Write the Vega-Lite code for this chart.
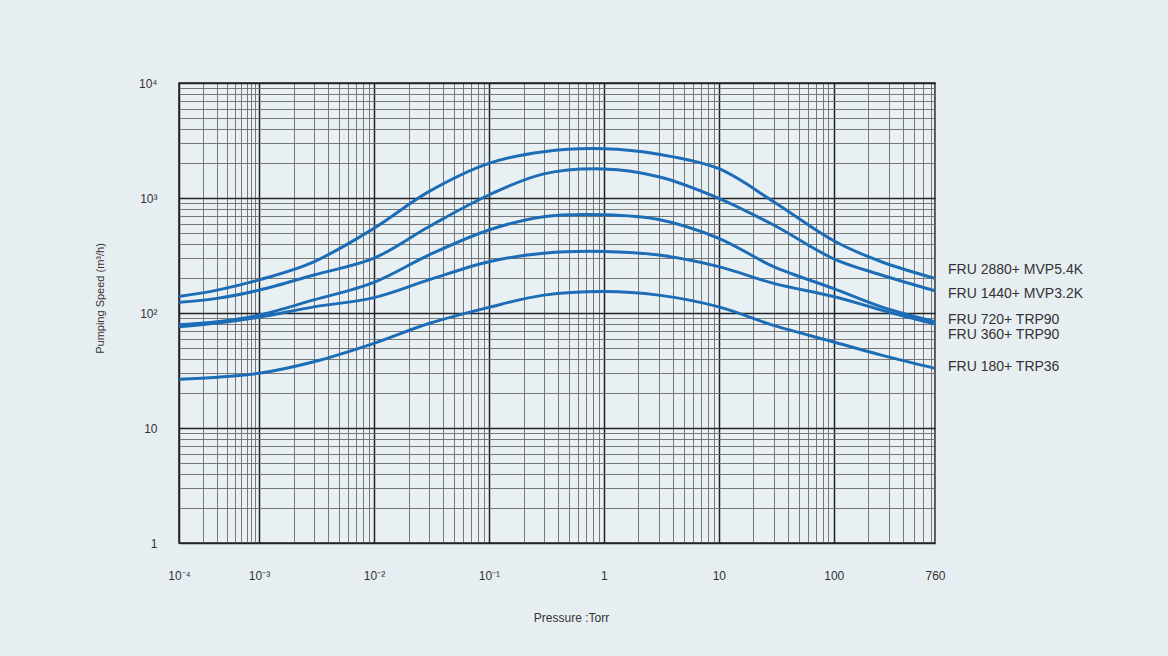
{
  "$schema": "https://vega.github.io/schema/vega-lite/v6.json",
  "width": 756,
  "height": 460,
  "autosize": {"type": "none"},
  "padding": {"left": 179, "top": 83, "right": 233, "bottom": 113},
  "background": "#e7eef2",
  "config": {
    "font": "Liberation Sans",
    "view": {"stroke": "#222222", "strokeWidth": 1.5, "fill": "#e9f0f4"}
  },
  "layer": [
    {
      "data": {
        "values": [
          {"series": "FRU 2880+ MVP5.4K", "pressure": 0.0001, "speed": 139},
          {"series": "FRU 2880+ MVP5.4K", "pressure": 0.0003, "speed": 158},
          {"series": "FRU 2880+ MVP5.4K", "pressure": 0.001, "speed": 194},
          {"series": "FRU 2880+ MVP5.4K", "pressure": 0.003, "speed": 279},
          {"series": "FRU 2880+ MVP5.4K", "pressure": 0.01, "speed": 545},
          {"series": "FRU 2880+ MVP5.4K", "pressure": 0.03, "speed": 1135},
          {"series": "FRU 2880+ MVP5.4K", "pressure": 0.1, "speed": 2000},
          {"series": "FRU 2880+ MVP5.4K", "pressure": 0.3, "speed": 2530},
          {"series": "FRU 2880+ MVP5.4K", "pressure": 1, "speed": 2680},
          {"series": "FRU 2880+ MVP5.4K", "pressure": 3, "speed": 2400},
          {"series": "FRU 2880+ MVP5.4K", "pressure": 10, "speed": 1800},
          {"series": "FRU 2880+ MVP5.4K", "pressure": 30, "speed": 929},
          {"series": "FRU 2880+ MVP5.4K", "pressure": 100, "speed": 425},
          {"series": "FRU 2880+ MVP5.4K", "pressure": 260, "speed": 279},
          {"series": "FRU 2880+ MVP5.4K", "pressure": 760, "speed": 200},
          {"series": "FRU 1440+ MVP3.2K", "pressure": 0.0001, "speed": 124},
          {"series": "FRU 1440+ MVP3.2K", "pressure": 0.0003, "speed": 134},
          {"series": "FRU 1440+ MVP3.2K", "pressure": 0.001, "speed": 158},
          {"series": "FRU 1440+ MVP3.2K", "pressure": 0.003, "speed": 214},
          {"series": "FRU 1440+ MVP3.2K", "pressure": 0.01, "speed": 300},
          {"series": "FRU 1440+ MVP3.2K", "pressure": 0.03, "speed": 563},
          {"series": "FRU 1440+ MVP3.2K", "pressure": 0.1, "speed": 1062},
          {"series": "FRU 1440+ MVP3.2K", "pressure": 0.3, "speed": 1620},
          {"series": "FRU 1440+ MVP3.2K", "pressure": 1, "speed": 1790},
          {"series": "FRU 1440+ MVP3.2K", "pressure": 3, "speed": 1532},
          {"series": "FRU 1440+ MVP3.2K", "pressure": 10, "speed": 994},
          {"series": "FRU 1440+ MVP3.2K", "pressure": 30, "speed": 582},
          {"series": "FRU 1440+ MVP3.2K", "pressure": 100, "speed": 296},
          {"series": "FRU 1440+ MVP3.2K", "pressure": 260, "speed": 214},
          {"series": "FRU 1440+ MVP3.2K", "pressure": 760, "speed": 156},
          {"series": "FRU 720+ TRP90", "pressure": 0.0001, "speed": 79},
          {"series": "FRU 720+ TRP90", "pressure": 0.0003, "speed": 84},
          {"series": "FRU 720+ TRP90", "pressure": 0.001, "speed": 96},
          {"series": "FRU 720+ TRP90", "pressure": 0.003, "speed": 130},
          {"series": "FRU 720+ TRP90", "pressure": 0.01, "speed": 185},
          {"series": "FRU 720+ TRP90", "pressure": 0.03, "speed": 319},
          {"series": "FRU 720+ TRP90", "pressure": 0.1, "speed": 527},
          {"series": "FRU 720+ TRP90", "pressure": 0.3, "speed": 688},
          {"series": "FRU 720+ TRP90", "pressure": 1, "speed": 715},
          {"series": "FRU 720+ TRP90", "pressure": 3, "speed": 650},
          {"series": "FRU 720+ TRP90", "pressure": 10, "speed": 446},
          {"series": "FRU 720+ TRP90", "pressure": 30, "speed": 253},
          {"series": "FRU 720+ TRP90", "pressure": 100, "speed": 163},
          {"series": "FRU 720+ TRP90", "pressure": 260, "speed": 113},
          {"series": "FRU 720+ TRP90", "pressure": 760, "speed": 84},
          {"series": "FRU 360+ TRP90", "pressure": 0.0001, "speed": 76},
          {"series": "FRU 360+ TRP90", "pressure": 0.0003, "speed": 82},
          {"series": "FRU 360+ TRP90", "pressure": 0.001, "speed": 92},
          {"series": "FRU 360+ TRP90", "pressure": 0.003, "speed": 113},
          {"series": "FRU 360+ TRP90", "pressure": 0.01, "speed": 136},
          {"series": "FRU 360+ TRP90", "pressure": 0.03, "speed": 194},
          {"series": "FRU 360+ TRP90", "pressure": 0.1, "speed": 279},
          {"series": "FRU 360+ TRP90", "pressure": 0.3, "speed": 331},
          {"series": "FRU 360+ TRP90", "pressure": 1, "speed": 343},
          {"series": "FRU 360+ TRP90", "pressure": 3, "speed": 319},
          {"series": "FRU 360+ TRP90", "pressure": 10, "speed": 253},
          {"series": "FRU 360+ TRP90", "pressure": 30, "speed": 181},
          {"series": "FRU 360+ TRP90", "pressure": 100, "speed": 139},
          {"series": "FRU 360+ TRP90", "pressure": 260, "speed": 106},
          {"series": "FRU 360+ TRP90", "pressure": 760, "speed": 80},
          {"series": "FRU 180+ TRP36", "pressure": 0.0001, "speed": 26.5},
          {"series": "FRU 180+ TRP36", "pressure": 0.0003, "speed": 27.6},
          {"series": "FRU 180+ TRP36", "pressure": 0.001, "speed": 29.9},
          {"series": "FRU 180+ TRP36", "pressure": 0.003, "speed": 37.7},
          {"series": "FRU 180+ TRP36", "pressure": 0.01, "speed": 54.5},
          {"series": "FRU 180+ TRP36", "pressure": 0.03, "speed": 81},
          {"series": "FRU 180+ TRP36", "pressure": 0.1, "speed": 112},
          {"series": "FRU 180+ TRP36", "pressure": 0.3, "speed": 143},
          {"series": "FRU 180+ TRP36", "pressure": 1, "speed": 154},
          {"series": "FRU 180+ TRP36", "pressure": 3, "speed": 143},
          {"series": "FRU 180+ TRP36", "pressure": 10, "speed": 113},
          {"series": "FRU 180+ TRP36", "pressure": 30, "speed": 78},
          {"series": "FRU 180+ TRP36", "pressure": 100, "speed": 56},
          {"series": "FRU 180+ TRP36", "pressure": 260, "speed": 43},
          {"series": "FRU 180+ TRP36", "pressure": 760, "speed": 33}
        ]
      },
      "mark": {"type": "line", "interpolate": "catmull-rom", "color": "#1c6db5", "strokeWidth": 3},
      "encoding": {
        "x": {
          "field": "pressure",
          "type": "quantitative",
          "scale": {"type": "log", "domain": [0.0001, 0.001, 760], "range": [0, 80, 756], "nice": false},
          "axis": {
            "title": "Pressure :Torr",
            "titleFontSize": 12,
            "titleFontWeight": "normal",
            "titleColor": "#333333",
            "titleX": 392,
            "titleY": 74,
            "titleBaseline": "middle",
            "domain": false,
            "ticks": false,
            "tickSize": 0,
            "labelPadding": 27,
            "labelFontSize": 12,
            "labelColor": "#333333",
            "labelOverlap": false,
            "labelBound": false,
            "labelFlush": false,
            "values": [0.0001, 0.0002, 0.0003, 0.0004, 0.0005, 0.0006, 0.0007, 0.0008, 0.0009,
                       0.001, 0.002, 0.003, 0.004, 0.005, 0.006, 0.007, 0.008, 0.009,
                       0.01, 0.02, 0.03, 0.04, 0.05, 0.06, 0.07, 0.08, 0.09,
                       0.1, 0.2, 0.3, 0.4, 0.5, 0.6, 0.7, 0.8, 0.9,
                       1, 2, 3, 4, 5, 6, 7, 8, 9,
                       10, 20, 30, 40, 50, 60, 70, 80, 90,
                       100, 200, 300, 400, 500, 600, 700, 760],
            "labelExpr": "datum.value == 0.0001 ? '10⁻⁴' : datum.value == 0.001 ? '10⁻³' : datum.value == 0.01 ? '10⁻²' : datum.value == 0.1 ? '10⁻¹' : datum.value == 1 ? '1' : datum.value == 10 ? '10' : datum.value == 100 ? '100' : datum.value == 760 ? '760' : ''",
            "grid": true,
            "gridColor": {"condition": {"test": "abs(log(datum.value) / LN10 - round(log(datum.value) / LN10)) < 0.000001", "value": "#222222"}, "value": "#6a6a6a"},
            "gridWidth": {"condition": {"test": "abs(log(datum.value) / LN10 - round(log(datum.value) / LN10)) < 0.000001", "value": 1.5}, "value": 0.9},
            "gridOpacity": 1
          }
        },
        "y": {
          "field": "speed",
          "type": "quantitative",
          "scale": {"type": "log", "domain": [1, 10000], "nice": false},
          "axis": {
            "title": "Pumping Speed (m³/h)",
            "titleFontSize": 11,
            "titleFontWeight": "normal",
            "titleColor": "#333333",
            "titleX": -79,
            "titleY": 215,
            "titleAngle": -90,
            "titleBaseline": "middle",
            "titleAlign": "center",
            "domain": false,
            "ticks": false,
            "tickSize": 0,
            "labelPadding": 22,
            "labelFontSize": 12,
            "labelColor": "#333333",
            "labelOverlap": false,
            "labelBound": false,
            "labelFlush": false,
            "values": [1, 2, 3, 4, 5, 6, 7, 8, 9,
                       10, 20, 30, 40, 50, 60, 70, 80, 90,
                       100, 200, 300, 400, 500, 600, 700, 800, 900,
                       1000, 2000, 3000, 4000, 5000, 6000, 7000, 8000, 9000, 10000],
            "labelExpr": "datum.value == 1 ? '1' : datum.value == 10 ? '10' : datum.value == 100 ? '10²' : datum.value == 1000 ? '10³' : datum.value == 10000 ? '10⁴' : ''",
            "grid": true,
            "gridColor": {"condition": {"test": "abs(log(datum.value) / LN10 - round(log(datum.value) / LN10)) < 0.000001", "value": "#222222"}, "value": "#6a6a6a"},
            "gridWidth": {"condition": {"test": "abs(log(datum.value) / LN10 - round(log(datum.value) / LN10)) < 0.000001", "value": 1.5}, "value": 0.9},
            "gridOpacity": 1
          }
        },
        "detail": {"field": "series", "type": "nominal"}
      }
    },
    {
      "data": {
        "values": [
          {"series": "FRU 2880+ MVP5.4K", "pressure": 760, "speed": 237},
          {"series": "FRU 1440+ MVP3.2K", "pressure": 760, "speed": 146},
          {"series": "FRU 720+ TRP90", "pressure": 760, "speed": 87},
          {"series": "FRU 360+ TRP90", "pressure": 760, "speed": 65},
          {"series": "FRU 180+ TRP36", "pressure": 760, "speed": 34}
        ]
      },
      "mark": {"type": "text", "align": "left", "baseline": "middle", "dx": 13, "fontSize": 14, "color": "#333333"},
      "encoding": {
        "x": {"field": "pressure", "type": "quantitative"},
        "y": {"field": "speed", "type": "quantitative"},
        "text": {"field": "series", "type": "nominal"}
      }
    }
  ]
}
